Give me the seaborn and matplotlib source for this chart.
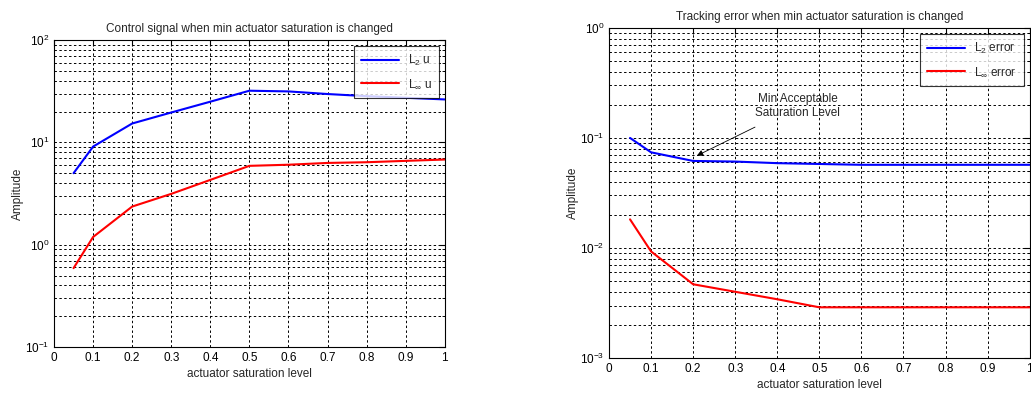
import numpy as np
import pandas as pd
import matplotlib
matplotlib.use("Agg")
import matplotlib.pyplot as plt
import seaborn as sns
from matplotlib.ticker import LogLocator, LogFormatterMathtext, NullFormatter

# ---- data ----
sat_left = [0.05, 0.1, 0.2, 0.3, 0.4, 0.5, 0.6, 0.7, 0.8, 0.9, 1.0]
l2_u = [5.0, 9.1, 15.3, 19.6, 25.0, 32.0, 31.5, 29.7, 28.3, 27.3, 26.3]
linf_u = [0.59, 1.19, 2.36, 3.14, 4.3, 5.9, 6.05, 6.3, 6.4, 6.6, 6.8]

sat_right = [0.05, 0.1, 0.2, 0.3, 0.4, 0.5, 0.6, 0.7, 0.8, 0.9, 1.0]
l2_err = [0.100, 0.074, 0.0618, 0.061, 0.059, 0.058, 0.057, 0.057, 0.057, 0.057, 0.057]
linf_err = [0.0182, 0.0093, 0.00468, 0.0040, 0.00342, 0.00289, 0.00289, 0.00289, 0.00289, 0.00289, 0.00289]

x_ticks = [0, 0.1, 0.2, 0.3, 0.4, 0.5, 0.6, 0.7, 0.8, 0.9, 1]
x_tick_labels = ["0", "0.1", "0.2", "0.3", "0.4", "0.5", "0.6", "0.7", "0.8", "0.9", "1"]

sns.set_style("white")
plt.rcParams["font.family"] = ["Liberation Sans", "DejaVu Sans"]
plt.rcParams["mathtext.fontset"] = "custom"
plt.rcParams["mathtext.rm"] = "Liberation Sans"
plt.rcParams["mathtext.it"] = "Liberation Sans"
plt.rcParams["mathtext.sf"] = "Liberation Sans"
plt.rcParams["axes.unicode_minus"] = False
plt.rcParams["font.size"] = 8

fig = plt.figure(figsize=(10.31, 3.93), dpi=100)
ax1 = fig.add_axes([0.0524, 0.117, 0.379, 0.781])
ax2 = fig.add_axes([0.5907, 0.089, 0.408, 0.840])

df1 = pd.DataFrame({"x": sat_left * 2,
                    "y": l2_u + linf_u,
                    "s": ["$L_2$ u"] * len(sat_left) + [r"$L_\infty$ u"] * len(sat_left)})
df2 = pd.DataFrame({"x": sat_right * 2,
                    "y": l2_err + linf_err,
                    "s": ["$L_2$ error"] * len(sat_right) + [r"$L_\infty$ error"] * len(sat_right)})

pal1 = {"$L_2$ u": "#0000ff", r"$L_\infty$ u": "#ff0000"}
pal2 = {"$L_2$ error": "#0000ff", r"$L_\infty$ error": "#ff0000"}

sns.lineplot(data=df1, x="x", y="y", hue="s", palette=pal1, ax=ax1, linewidth=1.5)
sns.lineplot(data=df2, x="x", y="y", hue="s", palette=pal2, ax=ax2, linewidth=1.5)

def style(ax, ylim, title):
    ax.set_yscale("log")
    ax.set_xlim(0, 1)
    ax.set_ylim(*ylim)
    ax.set_xticks(x_ticks)
    ax.set_xticklabels(x_tick_labels)
    ax.yaxis.set_major_locator(LogLocator(base=10, numticks=10))
    ax.yaxis.set_major_formatter(LogFormatterMathtext())
    ax.yaxis.set_minor_locator(LogLocator(base=10, subs=np.arange(2, 10), numticks=20))
    ax.yaxis.set_minor_formatter(NullFormatter())
    ax.grid(True, which="major", axis="both", color="black", linestyle=(0, (2.5, 2.5)), linewidth=0.7)
    ax.grid(True, which="minor", axis="y", color="black", linestyle=(0, (2.5, 2.5)), linewidth=0.7)
    ax.tick_params(which="both", direction="in", top=True, right=True, labelsize=8.5, colors="black")
    ax.tick_params(which="major", length=4)
    ax.tick_params(which="minor", length=2)
    for sp in ax.spines.values():
        sp.set_color("black")
        sp.set_linewidth(0.8)
    ax.set_xlabel("actuator saturation level", fontsize=8.5, labelpad=3)
    ax.set_ylabel("Amplitude", fontsize=8.5, labelpad=1)
    ax.set_title(title, fontsize=8.5, pad=6)
    leg = ax.legend(loc="upper right", fontsize=8.5, frameon=True, fancybox=False,
                    edgecolor="black", handlelength=3.2, borderpad=0.6, labelspacing=0.8)
    leg.get_frame().set_linewidth(0.8)

style(ax1, (0.1, 100), "Control signal when min actuator saturation is changed")
style(ax2, (0.001, 1), "Tracking error when min actuator saturation is changed")

ax2.annotate("Min Acceptable\nSaturation Level", xy=(0.209, 0.069), xytext=(0.449, 0.195),
             ha="center", va="center", fontsize=8.5,
             arrowprops=dict(arrowstyle="-|>", color="black", linewidth=0.6,
                             mutation_scale=9, shrinkA=8, shrinkB=0))

fig.savefig("out.png", dpi=100, facecolor="white")
